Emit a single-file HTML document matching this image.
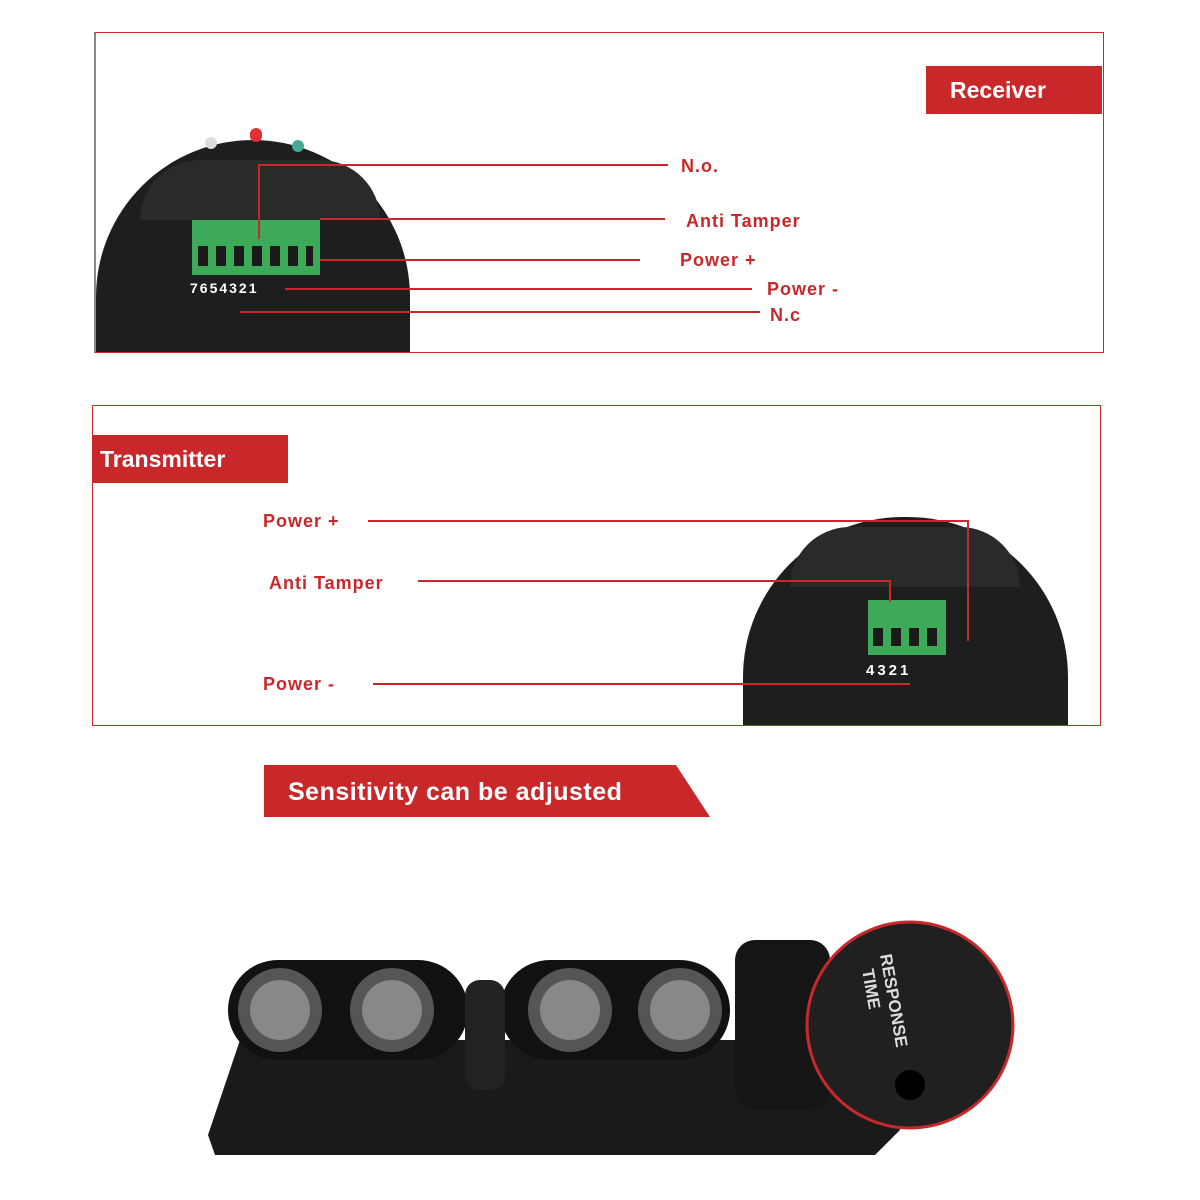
<!DOCTYPE html>
<html><head><meta charset="utf-8"><style>
body{margin:0;width:1200px;height:1200px;background:#fff;position:relative;overflow:hidden;font-family:"Liberation Sans",sans-serif}
.a{position:absolute}
.t{position:absolute;color:#c8282a;font-size:18px;letter-spacing:1px;font-weight:bold}
.l{position:absolute;background:#c8282a}
</style></head><body>
<!-- Box 1 -->
<div class="a" style="left:94px;top:32px;width:1007px;height:319px;border:1px solid #c8282a;border-left:2px solid #888"></div>
<div class="a" style="left:926px;top:66px;width:176px;height:48px;background:#c8282a;color:#fff;font-weight:bold;font-size:23px;line-height:48px;padding-left:24px;box-sizing:border-box">Receiver</div>
<div class="a" style="left:96px;top:140px;width:314px;height:212px;background:#1e1e1e;border-radius:160px 160px 0 0"></div>
<div class="a" style="left:140px;top:160px;width:240px;height:60px;background:#2a2a2a;border-radius:100px 100px 0 0"></div>
<div class="a" style="left:205px;top:137px;width:12px;height:12px;border-radius:6px;background:#ddd"></div>
<div class="a" style="left:250px;top:128px;width:12px;height:14px;border-radius:6px;background:#e03030"></div>
<div class="a" style="left:292px;top:140px;width:12px;height:12px;border-radius:6px;background:#4a9"></div>
<div class="a" style="left:192px;top:220px;width:128px;height:55px;background:#3daa5a"></div>
<div class="a" style="left:198px;top:246px;width:115px;height:20px;background:repeating-linear-gradient(90deg,#1a1a1a 0 10px,#3daa5a 10px 18px)"></div>
<div class="a" style="left:190px;top:280px;width:120px;color:#fff;font-size:14px;letter-spacing:2px;font-weight:bold">7654321</div>
<div class="l" style="left:258px;top:164px;width:410px;height:2px"></div>
<div class="l" style="left:258px;top:164px;width:2px;height:75px"></div>
<div class="l" style="left:320px;top:218px;width:345px;height:2px"></div>
<div class="l" style="left:320px;top:259px;width:320px;height:2px"></div>
<div class="l" style="left:285px;top:288px;width:467px;height:2px"></div>
<div class="l" style="left:240px;top:311px;width:520px;height:2px"></div>
<div class="t" style="left:681px;top:156px">N.o.</div>
<div class="t" style="left:686px;top:211px">Anti Tamper</div>
<div class="t" style="left:680px;top:250px">Power +</div>
<div class="t" style="left:767px;top:279px">Power -</div>
<div class="t" style="left:770px;top:305px">N.c</div>
<!-- Box 2 -->
<div class="a" style="left:92px;top:405px;width:1007px;height:319px;border:1px solid #c8282a"></div>
<div class="a" style="left:92px;top:435px;width:196px;height:48px;background:#c8282a;color:#fff;font-weight:bold;font-size:23px;line-height:48px;padding-left:8px;box-sizing:border-box">Transmitter</div>
<div class="a" style="left:743px;top:517px;width:325px;height:208px;background:#1e1e1e;border-radius:160px 160px 0 0"></div>
<div class="a" style="left:790px;top:527px;width:230px;height:60px;background:#2a2a2a;border-radius:100px 100px 0 0"></div>
<div class="a" style="left:868px;top:600px;width:78px;height:55px;background:#3daa5a"></div>
<div class="a" style="left:873px;top:628px;width:70px;height:18px;background:repeating-linear-gradient(90deg,#1a1a1a 0 10px,#3daa5a 10px 18px)"></div>
<div class="a" style="left:866px;top:662px;color:#fff;font-size:15px;letter-spacing:3px;font-weight:bold">4321</div>
<div class="l" style="left:368px;top:520px;width:601px;height:2px"></div>
<div class="l" style="left:967px;top:520px;width:2px;height:121px"></div>
<div class="l" style="left:418px;top:580px;width:473px;height:2px"></div>
<div class="l" style="left:889px;top:580px;width:2px;height:22px"></div>
<div class="l" style="left:373px;top:683px;width:537px;height:2px"></div>
<div class="t" style="left:263px;top:511px">Power +</div>
<div class="t" style="left:269px;top:573px">Anti Tamper</div>
<div class="t" style="left:263px;top:674px">Power -</div>
<!-- Banner -->
<svg class="a" style="left:264px;top:765px" width="448" height="54"><polygon points="0,0 412,0 446,52 0,52" fill="#c8282a"/><text x="24" y="35" fill="#fff" font-family="Liberation Sans" font-weight="bold" font-size="25" letter-spacing="0.5">Sensitivity can be adjusted</text></svg>
<!-- product -->
<svg class="a" style="left:0;top:900px" width="1200" height="300">
<polygon points="240,140 880,140 900,230 875,255 215,255 208,235" fill="#1a1a1a"/>
<rect x="228" y="60" width="240" height="100" rx="50" fill="#111"/>
<rect x="500" y="60" width="230" height="100" rx="50" fill="#111"/>
<rect x="465" y="80" width="40" height="110" rx="15" fill="#222"/>
<circle cx="280" cy="110" r="42" fill="#555"/><circle cx="280" cy="110" r="30" fill="#888"/>
<circle cx="392" cy="110" r="42" fill="#555"/><circle cx="392" cy="110" r="30" fill="#888"/>
<circle cx="570" cy="110" r="42" fill="#555"/><circle cx="570" cy="110" r="30" fill="#888"/>
<circle cx="680" cy="110" r="42" fill="#555"/><circle cx="680" cy="110" r="30" fill="#888"/>
<rect x="735" y="40" width="95" height="170" rx="20" fill="#151515"/>
<circle cx="910" cy="125" r="103" fill="#202020" stroke="#c8282a" stroke-width="3"/>
<circle cx="910" cy="185" r="15" fill="#000"/>
<text x="880" y="55" fill="#ddd" font-family="Liberation Sans" font-weight="bold" font-size="17" transform="rotate(80 880 55)">RESPONSE</text>
<text x="862" y="70" fill="#ddd" font-family="Liberation Sans" font-weight="bold" font-size="17" transform="rotate(80 862 70)">TIME</text>
</svg>
</body></html>
